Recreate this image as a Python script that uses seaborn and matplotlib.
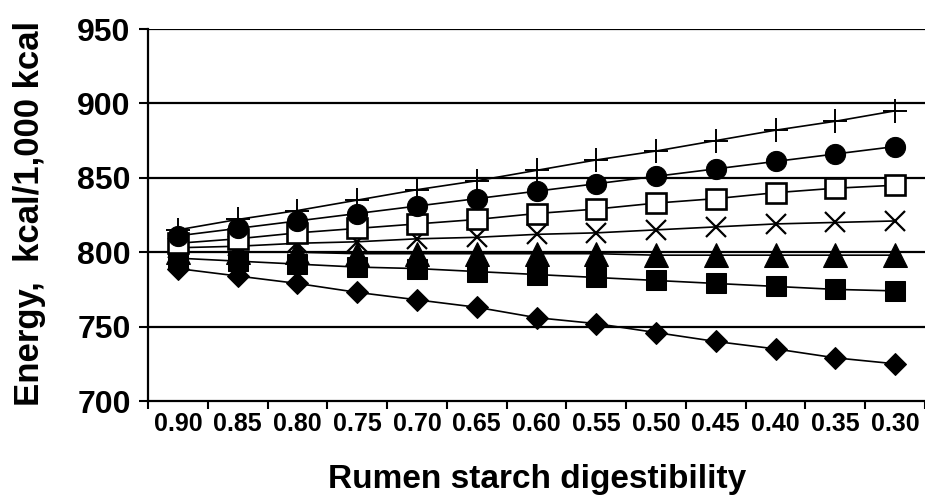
import matplotlib
matplotlib.use("Agg")
import matplotlib.pyplot as plt
from matplotlib.ticker import FixedLocator
import numpy as np
import pandas as pd
import seaborn as sns

# Rumen starch digestibility levels (x categories, left to right)
digestibility = ["0.90", "0.85", "0.80", "0.75", "0.70", "0.65", "0.60",
                 "0.55", "0.50", "0.45", "0.40", "0.35", "0.30"]

# Energy partitioning, kcal per 1,000 kcal
diamond_series = [789, 784, 779, 773, 768, 763, 756, 752, 746, 740, 735, 729, 725]
square_series = [796, 794, 792, 790, 789, 787, 785, 783, 781, 779, 777, 775, 774]
triangle_series = [800, 800, 800, 799, 799, 799, 799, 799, 798, 798, 798, 798, 798]
cross_series = [803, 804, 806, 807, 809, 810, 812, 813, 815, 817, 819, 820, 821]
open_square_series = [806, 809, 813, 816, 819, 822, 826, 829, 833, 836, 840, 843, 845]
circle_series = [811, 816, 821, 826, 831, 836, 841, 846, 851, 856, 861, 866, 871]
plus_series = [815, 822, 828, 835, 842, 848, 855, 862, 868, 875, 882, 888, 895]

y_ticks = [700, 750, 800, 850, 900, 950]

sns.set_theme(style="white")
plt.rcParams["font.family"] = ["Liberation Sans", "DejaVu Sans"]
plt.rcParams["font.weight"] = "bold"
for key in ["text.color", "axes.labelcolor", "xtick.color", "ytick.color"]:
    plt.rcParams[key] = "black"

fig = plt.figure(figsize=(9.25, 4.95), dpi=100)
ax = fig.add_axes([148 / 925, 1 - 401 / 495, 777 / 925, (401 - 29) / 495])

styles = [
    (diamond_series, dict(marker="D", markersize=11.5, markerfacecolor="black")),
    (square_series, dict(marker="s", markersize=14, markerfacecolor="black")),
    (triangle_series, dict(marker="^", markersize=17, markerfacecolor="black")),
    (cross_series, dict(marker="x", markersize=14.5, markeredgewidth=1.6)),
    (open_square_series, dict(marker="s", markersize=14, markerfacecolor="white",
                              markeredgewidth=1.9)),
    (circle_series, dict(marker="o", markersize=14.5, markerfacecolor="black")),
    (plus_series, dict(marker="+", markersize=17, markeredgewidth=1.4)),
]

# horizontal reference lines at each labelled energy level
for yv in y_ticks[1:]:
    ax.axhline(yv, color="black", lw=1.6, zorder=1)

for values, kw in styles:
    df = pd.DataFrame({"digestibility": digestibility, "energy": values})
    sns.lineplot(data=df, x="digestibility", y="energy", sort=False,
                 color="black", lw=1.2, markeredgecolor="black", ax=ax,
                 zorder=3, **kw)

ax.set_xlim(-0.5, len(digestibility) - 0.5)
ax.set_ylim(700, 950)
ax.set_yticks(y_ticks)
ax.set_yticklabels([str(v) for v in y_ticks], fontsize=23, fontweight="bold")
ax.set_xticks(range(len(digestibility)))
ax.set_xticklabels(digestibility, fontsize=18, fontweight="bold")
ax.xaxis.set_minor_locator(FixedLocator(np.arange(-0.5, len(digestibility), 1.0)))
ax.tick_params(axis="x", which="major", length=0, pad=8, colors="black")
ax.tick_params(axis="x", which="minor", length=6, width=1.5, direction="out",
               bottom=True, color="black")
ax.tick_params(axis="y", which="major", length=6.5, width=1.5, direction="out",
               left=True, pad=6, colors="black")

for side in ["top", "right"]:
    ax.spines[side].set_visible(False)
for side in ["left", "bottom"]:
    ax.spines[side].set_color("black")
    ax.spines[side].set_linewidth(1.6)
ax.grid(False)
ax.set_xlabel("")
ax.set_ylabel("")

fig.text(537 / 925, 1 - 488 / 495, "Rumen starch digestibility",
         fontsize=24, fontweight="bold", ha="center", va="baseline")
fig.text(30 / 925, 1 - 213 / 495, "Energy,  kcal/1,000 kcal",
         fontsize=25, fontweight="bold", ha="center", va="center", rotation=90)

fig.savefig("out.png", dpi=100, facecolor="white")
